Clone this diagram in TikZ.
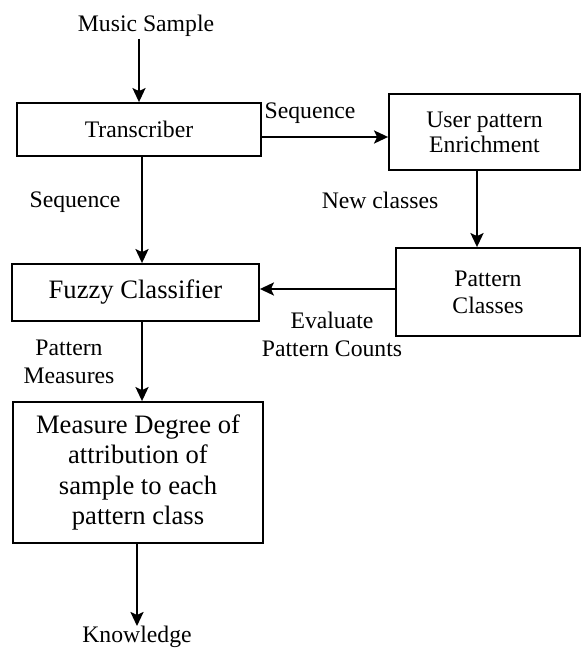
\documentclass[tikz,border=0pt]{standalone}
\usepackage{fontspec}
\setmainfont{Liberation Serif}
\usetikzlibrary{arrows.meta}
\begin{document}
\begin{tikzpicture}[x=1pt,y=-1pt,
  box/.style={draw,line width=1.8pt,inner sep=0pt,align=center},
  lbl/.style={inner sep=0pt,align=center,font=\fontsize{23.7}{28}\selectfont},
  conn/.style={line width=2.4pt,-{Stealth[length=14pt,width=13pt,inset=3pt]}}]
\useasboundingbox (0,0) rectangle (581,650);
\node[lbl] (ms) at (146,26) {Music Sample};
\node[box,minimum width=244pt,minimum height=53pt,font=\fontsize{23.7}{26}\selectfont] (tr) at (139,129.5) {Transcriber};
\node[box,minimum width=191pt,minimum height=76pt,font=\fontsize{23.7}{25}\selectfont] (up) at (484.5,132) {User pattern\\Enrichment};
\node[box,minimum width=184pt,minimum height=88pt,font=\fontsize{23.7}{27}\selectfont] (pc) at (488,292) {Pattern\\Classes};
\node[box,minimum width=247pt,minimum height=57pt,font=\fontsize{26.6}{30}\selectfont] (fc) at (135.5,292.5) {Fuzzy Classifier};
\node[box,minimum width=250pt,minimum height=141pt,font=\fontsize{26.6}{30.2}\selectfont] (md) at (138,472.5) {Measure Degree of\\attribution of\\sample to each\\pattern class};
\node[lbl] (kn) at (137,637) {Knowledge};
\node[lbl] (l1) at (310,113) {Sequence};
\node[lbl] (l2) at (75,202) {Sequence};
\node[lbl] (l3) at (380,200) {New classes};
\node[lbl] (l4) at (332,334) {Evaluate\\Pattern Counts};
\node[lbl] (l5) at (69,362) {Pattern\\Measures};
\draw[conn] (ms.south -| tr.north) ++(0,2) -- (tr.north);
\draw[conn] (tr.east |- 0,137) -- (up.west |- 0,137);
\draw[conn] (tr.south -| 142,0) -- (fc.north -| 142,0);
\draw[conn] (up.south -| 477,0) -- (pc.north -| 477,0);
\draw[conn] (pc.west |- 0,289) -- (fc.east |- 0,289);
\draw[conn] (fc.south -| 142,0) -- (md.north -| 142,0);
\draw[conn] (md.south -| 137,0) -- (kn.north -| 137,0);
\end{tikzpicture}
\end{document}
